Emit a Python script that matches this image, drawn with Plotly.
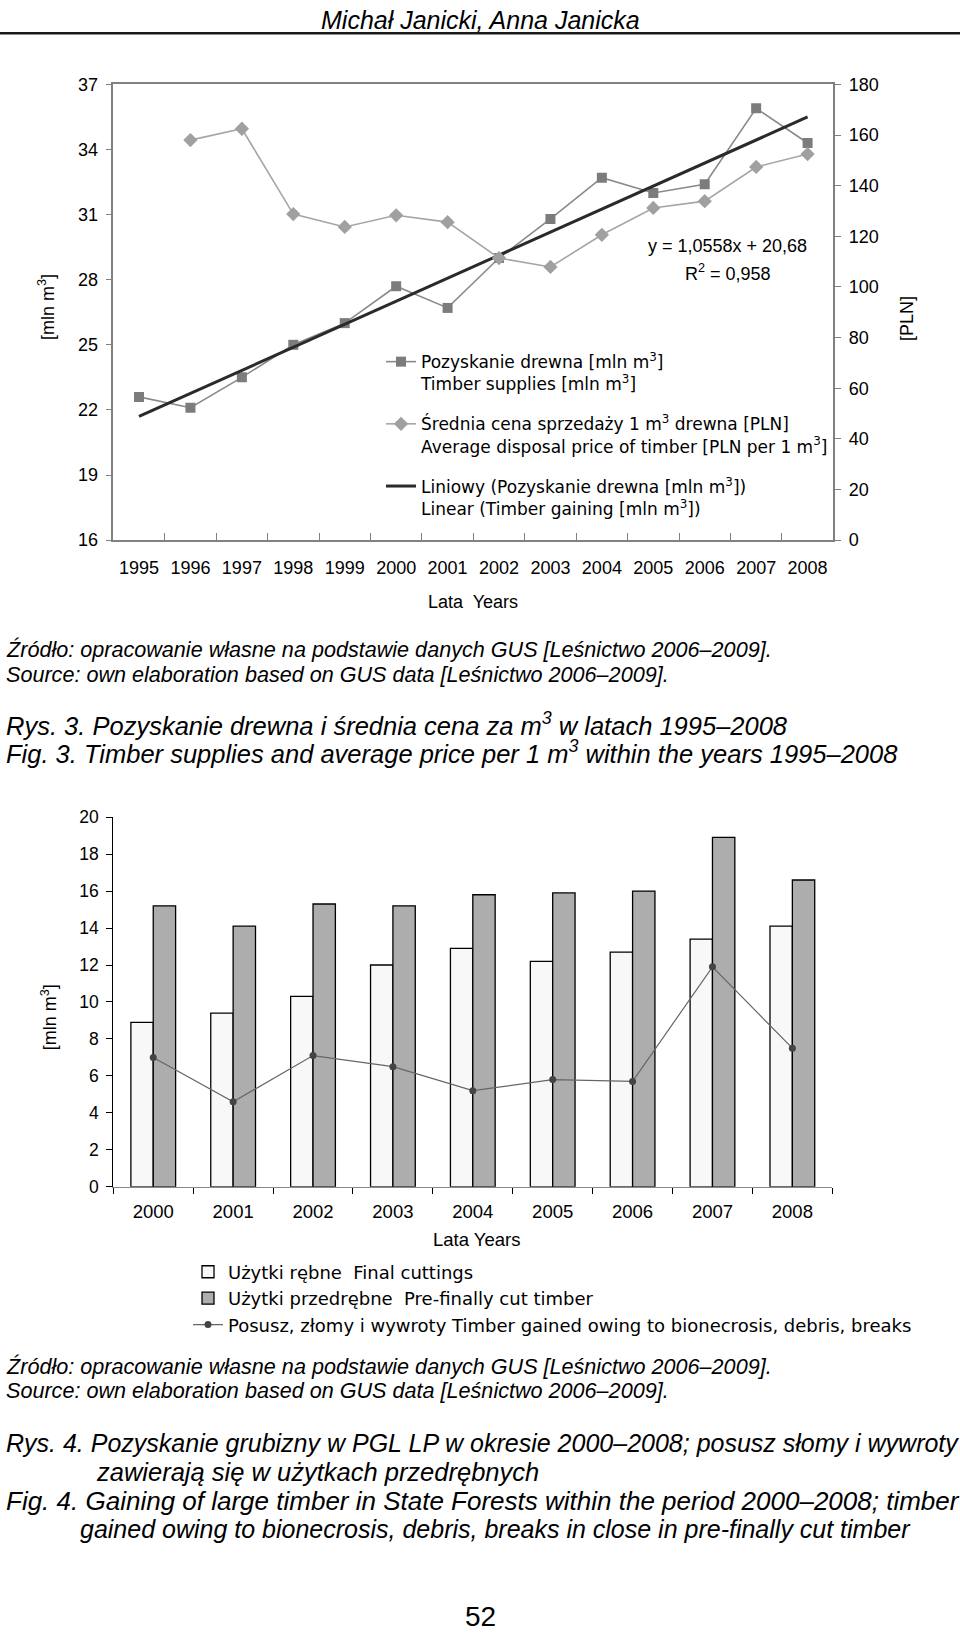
import plotly.graph_objects as go

W, H = 960, 1636
# the photographed page maps figure rows [0, H] onto roughly [8.8, 1626];
# positions below are given in reference-picture pixels and converted here.
def px(x):
    return x / W
def Y(t):
    return (t - 8.8) / 0.9887
def py(t):
    return 1 - Y(t) / H

FONT = "Liberation Sans, Arial, sans-serif"
LFONT = "DejaVu Sans, Liberation Sans, sans-serif"

# ---------------- data: figure 3 ----------------
years_top = ['1995', '1996', '1997', '1998', '1999', '2000', '2001',
             '2002', '2003', '2004', '2005', '2006', '2007', '2008']
timber_supplies = [22.6, 22.1, 23.5, 25.0, 26.0, 27.7, 26.7,
                   29.0, 30.8, 32.7, 32.0, 32.4, 35.9, 34.3]
avg_price = [None, 158.0, 162.5, 128.8, 123.7, 128.3, 125.6,
             111.4, 107.9, 120.6, 131.2, 133.9, 147.4, 152.5]
trend_years = ['1995', '2008']
trend_values = [21.7, 35.5]
left_ticks = [16, 19, 22, 25, 28, 31, 34, 37]
right_ticks = [0, 20, 40, 60, 80, 100, 120, 140, 160, 180]

# ---------------- data: figure 4 ----------------
years_bottom = ['2000', '2001', '2002', '2003', '2004', '2005', '2006', '2007', '2008']
final_cuttings = [8.9, 9.4, 10.3, 12.0, 12.9, 12.2, 12.7, 13.4, 14.1]
pre_final = [15.2, 14.1, 15.3, 15.2, 15.8, 15.9, 16.0, 18.9, 16.6]
bionecrosis = [7.0, 4.6, 7.1, 6.5, 5.2, 5.8, 5.7, 11.9, 7.5]
bottom_ticks = [0, 2, 4, 6, 8, 10, 12, 14, 16, 18, 20]

fig = go.Figure()

# ---- top chart traces ----
fig.add_trace(go.Scatter(
    x=years_top, y=timber_supplies, mode='lines+markers',
    name='Pozyskanie drewna [mln m<sup>3</sup>]<br>Timber supplies [mln m<sup>3</sup>]',
    line=dict(color='#8a8a8a', width=1.6),
    marker=dict(symbol='square', size=10, color='#7c7c7c'),
    xaxis='x', yaxis='y', legend='legend', legendgroup='a'))
fig.add_trace(go.Scatter(
    x=years_top, y=avg_price, mode='lines+markers',
    name='Średnia cena sprzedaży 1 m<sup>3</sup> drewna [PLN]<br>Average disposal price of timber [PLN per 1 m<sup>3</sup>]',
    line=dict(color='#a6a6a6', width=1.6),
    marker=dict(symbol='diamond', size=11, color='#a0a0a0'),
    xaxis='x', yaxis='y2', legend='legend', legendgroup='b'))
fig.add_trace(go.Scatter(
    x=trend_years, y=trend_values, mode='lines',
    name='Liniowy (Pozyskanie drewna [mln m<sup>3</sup>])<br>Linear (Timber gaining [mln m<sup>3</sup>])',
    line=dict(color='#2a2a2a', width=3),
    xaxis='x', yaxis='y', legend='legend', legendgroup='c'))

# ---- bottom chart traces ----
fig.add_trace(go.Bar(
    x=years_bottom, y=final_cuttings, name='Użytki rębne  Final cuttings',
    marker=dict(color='#f8f8f8', line=dict(color='black', width=1.3)),
    xaxis='x2', yaxis='y3', legend='legend2'))
fig.add_trace(go.Bar(
    x=years_bottom, y=pre_final, name='Użytki przedrębne  Pre-finally cut timber',
    marker=dict(color='#adadad', line=dict(color='black', width=1.3)),
    xaxis='x2', yaxis='y3', legend='legend2'))
fig.add_trace(go.Scatter(
    x=years_bottom, y=bionecrosis, mode='lines+markers',
    name='Posusz, złomy i wywroty Timber gained owing to bionecrosis, debris, breaks',
    line=dict(color='#666666', width=1.2),
    marker=dict(symbol='circle', size=7, color='#444444'),
    xaxis='x2', yaxis='y3', legend='legend2'))

tickfont = dict(family=FONT, size=18, color='black')

fig.update_layout(
    width=W, height=H, autosize=False,
    margin=dict(l=0, r=0, t=0, b=0),
    paper_bgcolor='white', plot_bgcolor='white',
    font=dict(family=FONT, color='black'),
    barmode='group', bargap=0.44, bargroupgap=0,
    xaxis=dict(domain=[px(113.3), px(833.3)], anchor='y', type='category',
               range=[-0.5, len(years_top) - 0.5],
               showline=True, linecolor='#808080', linewidth=1.5, mirror=True,
               ticks='inside', ticklen=7, tickcolor='#808080', tickwidth=1.2,
               tickson='boundaries', showgrid=False, tickfont=tickfont, tickangle=0,
               ticklabelstandoff=11, fixedrange=True),
    yaxis=dict(domain=[py(539.4), py(83.3)], anchor='x', range=[16, 37],
               tickvals=left_ticks, showline=True, linecolor='#808080', linewidth=1.5,
               ticks='outside', ticklen=6, tickcolor='#808080', showgrid=False,
               zeroline=False, tickfont=tickfont, ticklabelstandoff=4),
    yaxis2=dict(overlaying='y', side='right', anchor='x', range=[0, 180],
                tickvals=right_ticks, showline=True, linecolor='#808080', linewidth=1.5,
                ticks='outside', ticklen=6, tickcolor='#808080', showgrid=False,
                zeroline=False, tickfont=tickfont, ticklabelstandoff=4),
    xaxis2=dict(domain=[px(113.3), px(832.3)], anchor='y3', type='category',
                range=[-0.5, len(years_bottom) - 0.5],
                showline=True, linecolor='#888888', linewidth=1.3,
                ticks='outside', ticklen=6, tickcolor='black', tickwidth=1.3,
                tickson='boundaries', showgrid=False, tickangle=0,
                tickfont=dict(family=FONT, size=18.5, color='black'),
                ticklabelstandoff=8),
    yaxis3=dict(domain=[py(1186.7), py(816.7)], anchor='x2', range=[0, 20],
                tickvals=bottom_ticks, showline=True, linecolor='black', linewidth=1.3,
                ticks='outside', ticklen=6, tickcolor='black', showgrid=False,
                zeroline=False, tickfont=dict(family=FONT, size=17.5, color='black'),
                ticklabelstandoff=4),
    legend=dict(x=px(381), y=py(343.2), xanchor='left', yanchor='top',
                bgcolor='rgba(0,0,0,0)', font=dict(family=LFONT, size=17, color='black'),
                valign='top', traceorder='grouped', tracegroupgap=15, itemwidth=30),
    legend2=dict(x=px(188), y=py(1253.5), xanchor='left', yanchor='top',
                 bgcolor='rgba(0,0,0,0)', font=dict(family=LFONT, size=18, color='black'),
                 traceorder='normal', itemwidth=30),
)

annotations = []
def note(text, x, y, size, xanchor='center', italic=False, angle=0):
    annotations.append(dict(
        text=text, x=px(x), y=py(y), xref='paper', yref='paper',
        xanchor=xanchor, yanchor='middle', showarrow=False, textangle=angle,
        font=dict(family=FONT, size=size, color='black',
                  style='italic' if italic else 'normal')))

# page header, as high as the figure allows
annotations.append(dict(
    text='Michał Janicki, Anna Janicka', x=px(480), y=1 - 10 / H,
    xref='paper', yref='paper', xanchor='center', yanchor='middle',
    showarrow=False, font=dict(family=FONT, size=25, color='black', style='italic')))

note('y = 1,0558x + 20,68', 727, 245, 18)
note('R<sup>2</sup> = 0,958', 728, 272, 18)
note('[mln m<sup>3</sup>]', 47, 306, 18, angle=-90)
note('[PLN]', 907, 318, 18, angle=-90)
note('Lata  Years', 473, 601, 18)
note('Źródło: opracowanie własne na podstawie danych GUS [Leśnictwo 2006–2009].', 4, 649, 21.6, 'left', True)
note('Source: own elaboration based on GUS data [Leśnictwo 2006–2009].', 4, 674, 21.6, 'left', True)
note('Rys. 3. Pozyskanie drewna i średnia cena za m<sup>3</sup> w latach 1995–2008', 4, 723, 25.5, 'left', True)
note('Fig. 3. Timber supplies and average price per 1 m<sup>3</sup> within the years 1995–2008', 4, 751, 25.5, 'left', True)

note('[mln m<sup>3</sup>]', 49, 1017, 18, angle=-90)
note('Lata Years', 476, 1239, 18.5)
note('Źródło: opracowanie własne na podstawie danych GUS [Leśnictwo 2006–2009].', 4, 1367, 21.6, 'left', True)
note('Source: own elaboration based on GUS data [Leśnictwo 2006–2009].', 4, 1391, 21.6, 'left', True)
note('Rys. 4. Pozyskanie grubizny w PGL LP w okresie 2000–2008; posusz słomy i wywroty', 4, 1443, 25, 'left', True)
note('zawierają się w użytkach przedrębnych', 94, 1472, 25.5, 'left', True)
note('Fig. 4. Gaining of large timber in State Forests within the period 2000–2008; timber', 4, 1501, 26, 'left', True)
note('gained owing to bionecrosis, debris, breaks in close in pre-finally cut timber', 78, 1529, 25, 'left', True)

# page number, kept just inside the bottom edge
annotations.append(dict(
    text='52', x=px(480), y=1 - 1626 / H, xref='paper', yref='paper',
    xanchor='center', yanchor='middle', showarrow=False,
    font=dict(family=FONT, size=28, color='black')))

fig.update_layout(
    annotations=annotations,
    shapes=[dict(type='line', xref='paper', yref='paper', x0=0, x1=1,
                 y0=py(32), y1=py(32), line=dict(color='#1a1a1a', width=2.5))])

fig.write_html(
    "out.html",
    config={'displayModeBar': False},
    post_script=(
        "var d=document.getElementById('{plot_id}');"
        "d.style.position='absolute';d.style.top='0px';d.style.left='0px';"
        "document.body.style.margin='0';"
        "document.documentElement.style.overflow='hidden';"
        "document.body.style.overflow='hidden';"))
